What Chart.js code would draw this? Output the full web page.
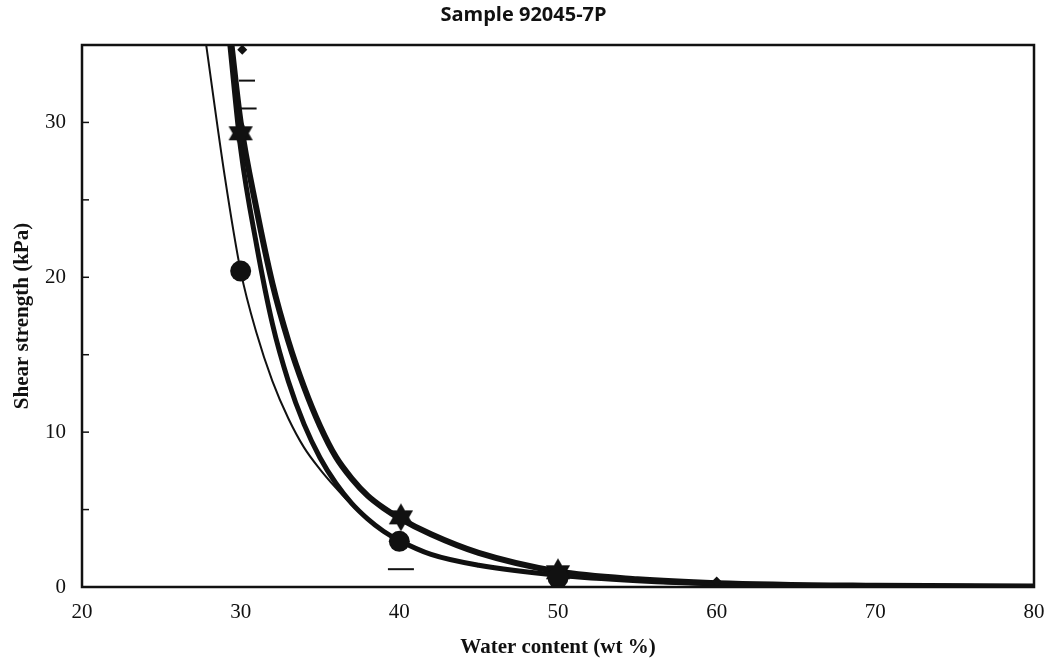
<!DOCTYPE HTML>
<html>
  <head>
    <script src="https://cdn.jsdelivr.net/npm/chart.js"></script>
    <style>
      body { margin: 0; background: #fff; }
    </style>
  </head>
  <body>
    <canvas id="shear-chart" width="1050" height="664"></canvas>

    <script>
      // curves: [water content, shear strength]
      const thin_curve = [[27.8,35.2],[29,26.5],[30,20.4],[31,16.4],[32,13.3],[33,10.9],[34,9.0],[35,7.6],
        [36,6.4],[37,5.3],[38,4.4],[39,3.6],[40,3.0],[42,2.1],[45,1.4],[50,0.75],[55,0.4],[60,0.2],[70,0.07],[80,0.03]];
      const middle_curve = [[29.3,35.2],[30,28.3],[31,22.1],[32,17.0],[33,13.3],[34,10.5],[35,8.35],[36,6.7],
        [37,5.4],[38,4.4],[39,3.6],[40,3.0],[42,2.1],[45,1.4],[50,0.75],[55,0.4],[60,0.2],[70,0.07],[80,0.03]];
      const thick_curve = [[29.4,35.2],[30,30.0],[31,24.4],[32,19.6],[33,15.9],[34,12.9],[35,10.4],[36,8.4],
        [37,7.0],[38,5.9],[39,5.1],[40,4.45],[42,3.4],[45,2.2],[50,1.0],[55,0.5],[60,0.25],[70,0.08],[80,0.03]];

      const circle_points = [[30,20.4],[40,2.95],[50,0.6]];
      const star_points = [[30,29.3],[40.1,4.5],[50,0.95]];
      const diamond_points = [[30.1,34.7],[60,0.35]];
      const dash_points = [[30.4,32.7],[30.5,30.9],[40.1,1.15]];
      const dash_sizes = [8,8,13];

      const x_ticks = [20,30,40,50,60,70,80];
      const y_max = 35;

      const toXY = arr => arr.map(p => ({x: p[0], y: p[1]}));

      // six point star marker
      const star = document.createElement('canvas');
      star.width = 30; star.height = 30;
      const sc = star.getContext('2d');
      sc.fillStyle = '#111';
      function tri(rot) {
        sc.beginPath();
        for (let i = 0; i < 3; i++) {
          const a = rot + i * 2 * Math.PI / 3;
          const px = 15 + 14 * Math.sin(a), py = 15 - 14 * Math.cos(a);
          if (i == 0) sc.moveTo(px, py); else sc.lineTo(px, py);
        }
        sc.closePath();
        sc.fill();
      }
      tri(0); tri(Math.PI);

      const frame = {
        id: 'frame',
        afterDraw(chart) {
          const {ctx, chartArea: a, scales} = chart;
          ctx.save();
          ctx.strokeStyle = '#111';
          ctx.lineWidth = 2.5;
          ctx.strokeRect(a.left, a.top, a.right - a.left, a.bottom - a.top);
          ctx.lineWidth = 1.5;
          scales.y.ticks.forEach(t => {
            const py = scales.y.getPixelForValue(t.value);
            ctx.beginPath();
            ctx.moveTo(a.left, py);
            ctx.lineTo(a.left + 7, py);
            ctx.stroke();
          });
          ctx.restore();
        }
      };

      const curve = (data, w) => ({
        data: toXY(data), showLine: true, borderColor: '#111', borderWidth: w,
        pointRadius: 0, cubicInterpolationMode: 'monotone', order: 2
      });

      const shear_chart = new Chart(document.getElementById('shear-chart'), {
        type: 'scatter',
        data: {
          datasets: [
            curve(thin_curve, 2),
            curve(middle_curve, 5),
            curve(thick_curve, 6),
            { data: toXY(circle_points), pointStyle: 'circle', pointRadius: 10.5,
              backgroundColor: '#111', borderColor: '#111', borderWidth: 0, order: 1 },
            { data: toXY(star_points), pointStyle: star, pointRadius: 15, order: 1 },
            { data: toXY(diamond_points), pointStyle: 'rectRot', pointRadius: 5,
              backgroundColor: '#111', borderColor: '#111', borderWidth: 0, order: 1 },
            { data: toXY(dash_points), pointStyle: 'line', pointRadius: dash_sizes,
              borderColor: '#111', borderWidth: 2, order: 1 }
          ]
        },
        options: {
          responsive: false,
          animation: false,
          devicePixelRatio: 1,
          layout: { padding: { left: 10, right: 13, top: 0, bottom: 4 } },
          plugins: {
            legend: { display: false },
            tooltip: { enabled: false },
            title: {
              display: true,
              text: 'Sample 92045-7P',
              color: '#111',
              font: { family: 'Open Sans', size: 20, weight: 'bold' },
              padding: { top: 3, bottom: 18 }
            }
          },
          scales: {
            x: {
              type: 'linear', min: 20, max: 80,
              afterBuildTicks: s => { s.ticks = x_ticks.map(v => ({value: v})); },
              afterFit: s => { s.height = 664 - 587 - 4; },
              grid: { display: false },
              border: { display: false },
              ticks: { color: '#111', padding: 5, font: { family: 'Liberation Serif', size: 21 } },
              title: { display: true, text: 'Water content (wt %)', color: '#111', padding: 0,
                font: { family: 'Liberation Serif', size: 21, weight: 'bold' } }
            },
            y: {
              type: 'linear', min: 0, max: y_max,
              afterFit: s => { s.width = 72; },
              grid: { display: false, drawTicks: false },
              border: { display: false },
              ticks: { stepSize: 5, color: '#111', padding: 16,
                font: { family: 'Liberation Serif', size: 21 },
                callback: v => (v % 10 == 0 ? v : '') },
              title: { display: true, text: 'Shear strength (kPa)', color: '#111', padding: 0,
                font: { family: 'Liberation Serif', size: 21, weight: 'bold' } }
            }
          }
        },
        plugins: [frame]
      });
    </script>
  </body>
</html>
